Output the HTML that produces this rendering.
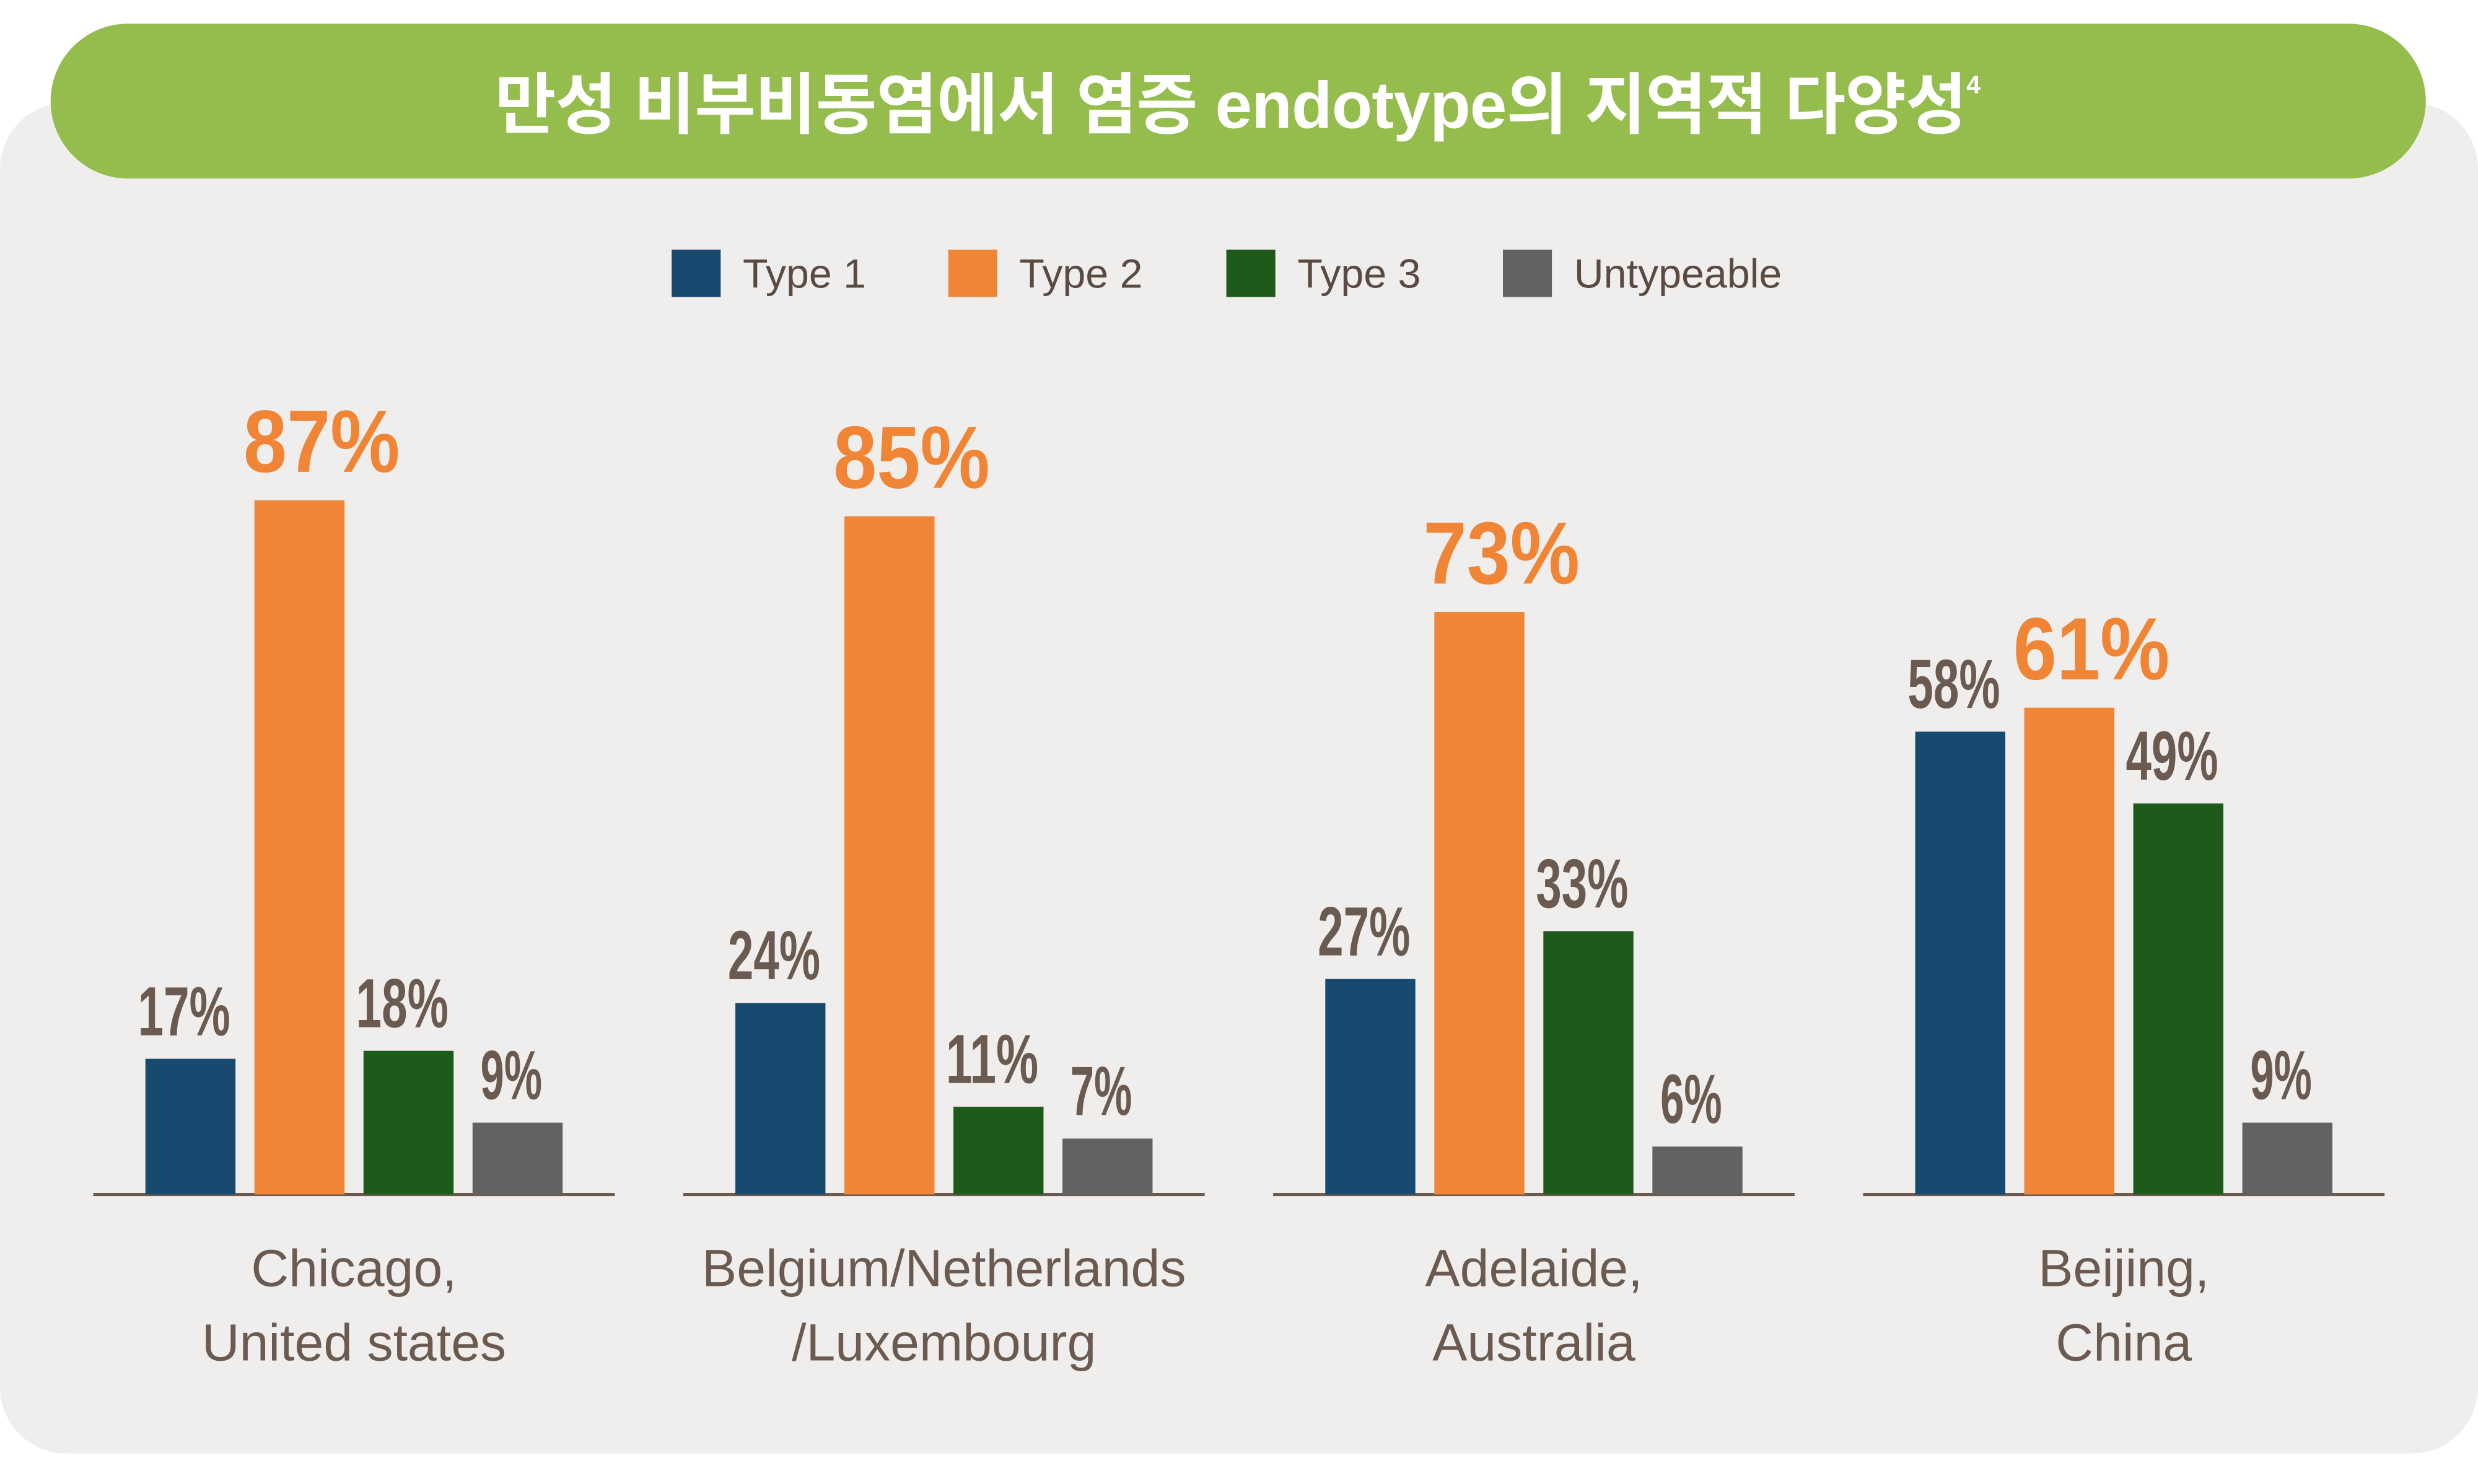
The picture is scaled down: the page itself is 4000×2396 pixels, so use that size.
<!DOCTYPE html>
<html><head><meta charset="utf-8">
<style>
html,body{margin:0;padding:0;background:#fff;}
svg{display:block;}
text{font-family:"Liberation Sans","Noto Sans CJK KR",sans-serif;}
</style></head>
<body>
<svg id="chart" width="4000" height="2396" viewBox="0 0 1568 939.26" xmlns="http://www.w3.org/2000/svg">
<rect x="0" y="65" width="1568" height="855" rx="42" fill="#f0eeec"/>
<rect x="32" y="15" width="1503" height="98" rx="49" fill="#95bd4d"/>
<text x="783" y="81" text-anchor="middle" font-size="42" font-weight="bold" fill="#fff" letter-spacing="-0.3">만성 비부비동염에서 염증 endotype의 지역적 다양성<tspan font-size="16" dy="-22">4</tspan></text>
<g id="legend"></g>
<g id="plot"></g>
</svg>
<script>
const categories = [["Chicago,","United states"],["Belgium/Netherlands","/Luxembourg"],["Adelaide,","Australia"],["Beijing,","China"]];
const seriesNames = ["Type 1","Type 2","Type 3","Untypeable"];
const type1 = [17,24,27,58];
const type2 = [87,85,73,61];
const type3 = [18,11,33,49];
const untypeable = [9,7,6,9];
const seriesColors = ["#174a6e","#ef8535","#1e5a1a","#626262"];

const NS="http://www.w3.org/2000/svg";
const series=[type1,type2,type3,untypeable];
const baseY=756, pxPer=5.05;
const yScale=v=>baseY-v*pxPer;
const groupX=i=>59+i*373.3;
const barX=(g,s)=>groupX(g)+33+s*69;
const barW=57;
function mk(tag,attrs,parent){const e=document.createElementNS(NS,tag);for(const k in attrs)e.setAttribute(k,attrs[k]);parent.appendChild(e);return e;}
const plot=document.getElementById('plot');
const legend=document.getElementById('legend');
const legX=[425,600,776,951];
seriesNames.forEach((n,s)=>{
  const r=mk('rect',{x:legX[s],y:158,width:31,height:30,fill:seriesColors[s]},legend);
  
  
  const t=mk('text',{x:legX[s]+45,y:182,'font-size':26,fill:'#5a4a42'},legend);
  t.textContent=n;
  
  
});
categories.forEach((c,g)=>{
  const ax=mk('line',{x1:groupX(g),x2:groupX(g)+330,y1:baseY,y2:baseY,stroke:'#6b5a50','stroke-width':2},plot);
  
  
  series.forEach((arr,s)=>{
    const v=arr[g];
    const b=mk('rect',{x:barX(g,s),y:yScale(v),width:barW,height:v*pxPer,fill:seriesColors[s]},plot);
    
    
    const big=s===1;
    const txt=v+'%';
    const len=txt.length*(big?33:19.5);
    const dx=big?14:-4;
    const t=mk('text',{x:barX(g,s)+barW/2+dx,y:yScale(v)-(big?18:15),'text-anchor':'middle','font-size':big?56:44,'font-weight':'bold',fill:big?'#ef8535':'#6b5a50',textLength:len,lengthAdjust:'spacingAndGlyphs'},plot);
    t.textContent=txt;
    
    
  });
  c.forEach((line,li)=>{
    const t=mk('text',{x:groupX(g)+165,y:814+li*47,'text-anchor':'middle','font-size':33,fill:'#6b5a50'},plot);
    t.textContent=line;
    
    
  });
});
</script>
</body></html>
